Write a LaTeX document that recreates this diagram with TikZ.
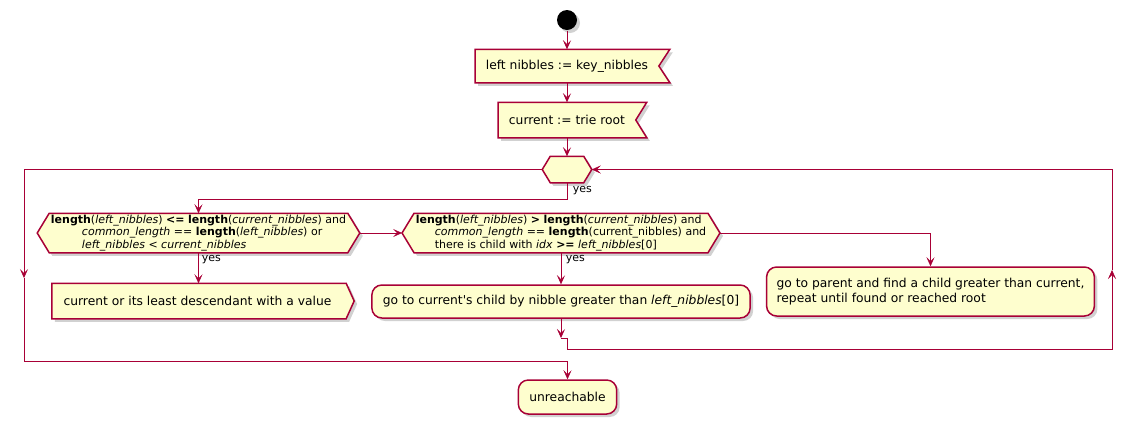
\documentclass[tikz,border=0pt]{standalone}
\usepackage{fontspec}
\setmainfont{DejaVu Sans}
\usepackage{tikz}
\usetikzlibrary{backgrounds,arrows.meta,shadows}
\definecolor{umlred}{HTML}{A80036}
\definecolor{umlfill}{HTML}{FEFECE}

\begin{document}
\begin{tikzpicture}[x=1pt,y=-1pt,line width=1.5pt]
    % `action' and `choice' only carry the text, their outlines go on the background.
    % `rbox' is used for the rounded activities, `flow' for the connectors.
    \tikzstyle{umlshadow} = [drop shadow={shadow xshift=3pt,shadow yshift=-3pt,opacity=.3,fill=black!60}]
    \tikzstyle{action} = [inner ysep=0pt,inner xsep=10pt,font=\fontsize{12.3}{14.5}\selectfont]
    \tikzstyle{choice} = [inner ysep=0pt,inner xsep=13pt,align=left,font=\fontsize{11}{12.7}\selectfont]
    \tikzstyle{rbox} = [action,draw=umlred,fill=umlfill,rounded corners=10pt,umlshadow]
    \tikzstyle{outline} = [draw=umlred,fill=umlfill,line width=1.5pt,line join=miter,umlshadow]
    \tikzstyle{flow} = [draw=umlred,line join=miter,-{Stealth[length=9pt,width=8pt,inset=4pt]}]
    \tikzstyle{guard} = [anchor=base west,inner sep=0pt,font=\fontsize{11}{12}\selectfont]
    %
    \useasboundingbox (0,0) rectangle (1136,424);
    \node[circle,fill=black,minimum size=20pt,inner sep=0pt,umlshadow] (start) at (567,20) {};
    \node[action,minimum height=32pt] (keys) at (567,66) {left nibbles := key\_nibbles};
    \node[action,minimum height=34pt] (root) at (567,120) {current := trie root};
    \node[minimum width=48pt,minimum height=25pt,inner sep=0pt] (merge) at (567,169.5) {};

    \node[choice,minimum height=38pt] (shorter) at (198.5,233)
      {\textbf{length}(\textit{left\_nibbles}) \textbf{<=} \textbf{length}(\textit{current\_nibbles}) and\\
       \hspace*{31pt}\textit{common\_length} == \textbf{length}(\textit{left\_nibbles}) or\\
       \hspace*{31pt}\textit{left\_nibbles < current\_nibbles}};
    \node[choice,minimum height=38pt] (longer) at (561,233)
      {\textbf{length}(\textit{left\_nibbles}) \textbf{>} \textbf{length}(\textit{current\_nibbles}) and\\
       \hspace*{19pt}\textit{common\_length} == \textbf{length}(current\_nibbles) and\\
       \hspace*{19pt}there is child with \textit{idx} \textbf{\textit{>=}} \textit{left\_nibbles}[0]};

    \node[action,inner xsep=11pt,minimum height=34pt] (least) at (197.5,301) {current or its least descendant with a value};
    \node[rbox,inner xsep=11pt,minimum height=33pt] (child) at (561,301.5) {go to current\textquotesingle s child by nibble greater than \textit{left\_nibbles}[0]};
    \node[rbox,align=left,minimum height=49pt] (parent) at (930.5,291.5)
      {go to parent and find a child greater than current,\\repeat until found or reached root};
    \node[rbox,inner xsep=11pt,minimum height=34pt] (unreach) at (567.5,397) {unreachable};

    \node[guard] (yes0) at (572,192) {yes};
    \node[guard] (yes1) at (201,261.5) {yes};
    \node[guard] (yes2) at (565,261.5) {yes};

    % loop corners
    \coordinate (join) at (561,338);
    \coordinate (rcorner) at (1112,349);
    \coordinate (rup) at (1112,270);
    \coordinate (ldown) at (24,278);
    \coordinate (lcorner) at (24,361);

    \begin{pgfonlayer}{background}
        % Draw outlines.
        \filldraw[outline] (keys.north west) -- ([xshift=11pt]keys.north east) -- (keys.east)
          -- ([xshift=11pt]keys.south east) -- (keys.south west) -- cycle;
        \filldraw[outline] (root.north west) -- ([xshift=11pt]root.north east) -- (root.east)
          -- ([xshift=11pt]root.south east) -- (root.south west) -- cycle;
        \filldraw[outline] (merge.west) -- ([xshift=8pt]merge.north west) -- ([xshift=-8pt]merge.north east)
          -- (merge.east) -- ([xshift=-8pt]merge.south east) -- ([xshift=8pt]merge.south west) -- cycle;
        \filldraw[outline] (shorter.west) -- ([xshift=12pt]shorter.north west) -- ([xshift=-12pt]shorter.north east)
          -- (shorter.east) -- ([xshift=-12pt]shorter.south east) -- ([xshift=12pt]shorter.south west) -- cycle;
        \filldraw[outline] (longer.west) -- ([xshift=12pt]longer.north west) -- ([xshift=-12pt]longer.north east)
          -- (longer.east) -- ([xshift=-12pt]longer.south east) -- ([xshift=12pt]longer.south west) -- cycle;
        \filldraw[outline] (least.north west) -- ([xshift=3pt]least.north east) -- ([xshift=11pt]least.east)
          -- ([xshift=3pt]least.south east) -- (least.south west) -- cycle;
    \end{pgfonlayer}

    % Draw lines.
    \draw[flow] (start) -- (keys);
    \draw[flow] (keys) -- (root);
    \draw[flow] (root) -- (merge);
    \draw[flow] (merge.south) -- ++(0,16) -| (shorter.north);
    \draw[flow] (shorter.east) -- (longer.west);
    \draw[flow] (shorter.south) -- (shorter.south |- least.north);
    \draw[flow] (longer.south) -- (child.north);
    \draw[flow] (longer.east) -| (parent.north);
    \draw[flow] (child.south) -- (join);
    \draw[flow] (join) -- ++(6,0) -- ++(0,11) -- (rcorner) -- (rup);
    \draw[flow] (rup) |- (merge.east);
    \draw[flow] (merge.west) -| (ldown);
    \draw[flow] (ldown) -- (lcorner) -| (unreach.north);
\end{tikzpicture}
\end{document}
